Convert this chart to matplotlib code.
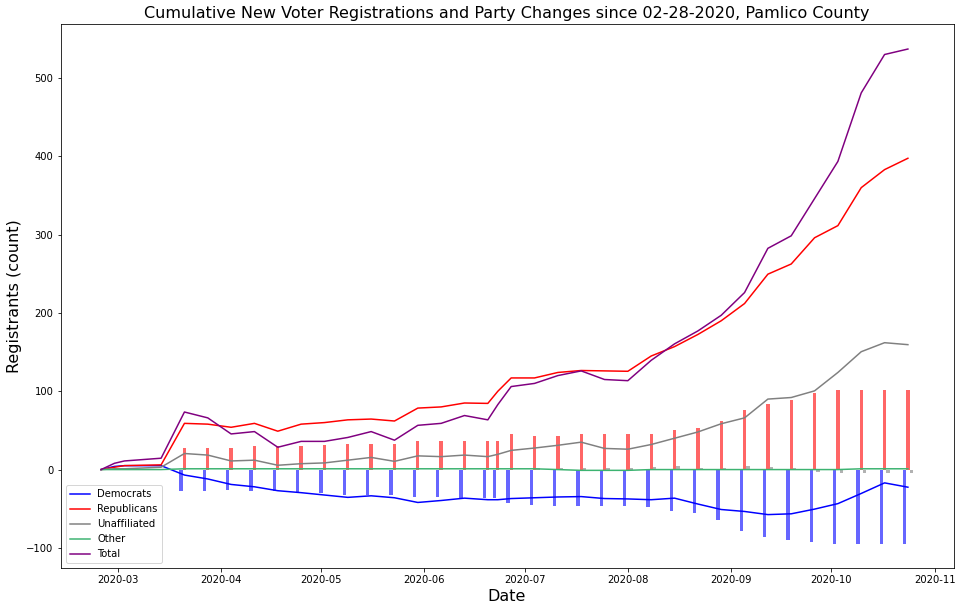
import numpy as np
import matplotlib
matplotlib.use("Agg")
from matplotlib import pyplot as plt

# weekly snapshot dates
dates = ["2020-02-25", "2020-02-29", "2020-03-03", "2020-03-14", "2020-03-21", "2020-03-28",
         "2020-04-04", "2020-04-11", "2020-04-18", "2020-04-25", "2020-05-02", "2020-05-09",
         "2020-05-16", "2020-05-23", "2020-05-30", "2020-06-06", "2020-06-13", "2020-06-20",
         "2020-06-23", "2020-06-27", "2020-07-04", "2020-07-11", "2020-07-18", "2020-07-25",
         "2020-08-01", "2020-08-08", "2020-08-15", "2020-08-22", "2020-08-29", "2020-09-05",
         "2020-09-12", "2020-09-19", "2020-09-26", "2020-10-03", "2020-10-10", "2020-10-17",
         "2020-10-24"]

democrats = [0, 4, 5, 5, -7, -12, -19, -22, -27, -29.5, -32.5, -35.5, -33.5, -36, -42, -39.5,
             -36.5, -38.5, -38.5, -37, -36, -35, -34.5, -37, -37.5, -38.5, -36.5, -44, -51,
             -53.5, -57.5, -56.5, -50.5, -43.5, -30.5, -17, -22.5]
republicans = [0, 3, 5, 6, 59, 58, 54, 59, 49, 58, 60, 63.5, 64.5, 62, 78.5, 80, 85, 84.5,
               100, 117, 117, 124, 126.5, 126, 125.5, 145, 157, 172.5, 190, 212, 249.5, 262.5,
               296, 311.5, 360, 383, 397.5]
unaffiliated = [0, 1, 1, 3, 20.5, 18.5, 11, 12, 5.5, 7.5, 8.5, 12, 15.5, 10.5, 17.5, 16.5,
                18.5, 16.5, 19.5, 24.5, 27.5, 31, 35, 27, 26, 32, 40, 48, 58.5, 66, 90, 92,
                100.5, 124, 150.5, 162, 159.5]
other = [0, 0, 0, 0, 1, 1, 1, 1, 1, 1, 1, 1, 1, 1, 1, 1, 1, 1, 1, 1, 1, 0, -1, -1, -1, 0, 0,
         0, 0, 0, 0, 0, 0, 0, 1, 1, 1]
total = [0, 8, 11, 14.5, 73.5, 66, 45.5, 48.5, 28.5, 36, 36, 41, 48.5, 37.5, 56.5, 59, 69,
         63.5, 83, 106, 110, 120, 126, 115, 113.5, 139.5, 160.5, 177, 197, 226, 282.5, 298.5,
         346, 393.5, 481, 530, 537]

# party changes (cumulative), from 2020-03-21 on
bar_dates = dates[4:]
chg_dem = [-28, -28, -26, -28, -27, -29.5, -30, -32, -32, -32, -34.5, -34.5, -36, -36, -36,
           -43, -45, -46, -47, -47, -47, -48, -53, -55, -65, -79, -86.5, -90.5, -93, -94.5,
           -94.5, -94.5, -94.5]
chg_rep = [28, 28, 28, 30.5, 29.5, 29.5, 32, 33, 33, 33, 36, 36, 37, 37, 37, 45, 42.5, 43.5,
           46, 46, 46, 46, 50, 53.5, 62.5, 76.5, 84, 89, 98, 102, 102, 102, 102]
chg_una = [0, 0, 0, 0, 0, 0, 0, 0, 0, 0, 0, 0, 0, 0, 0, 0, 2, 2, 2, 2, 2, 3.5, 4.5, 2, 2,
           4.5, 3.5, 2, -3.5, -5, -5, -5, -5]

x = np.array(dates, dtype="datetime64[D]")
xb = np.array(bar_dates, dtype="datetime64[D]")
day = np.timedelta64(1, "D")

fig = plt.figure(figsize=(962 / 72, 611 / 72), dpi=72)
ax = fig.add_axes([60.5 / 962, 42.7 / 611, 893 / 962, 544 / 611])

ax.plot(x, democrats, color="blue", label="Democrats")
ax.plot(x, republicans, color="red", label="Republicans")
ax.plot(x, unaffiliated, color="gray", label="Unaffiliated")
ax.plot(x, other, color="mediumseagreen", label="Other")
ax.plot(x, total, color="purple", label="Total")

ax.bar(xb - day, chg_dem, width=1, color="blue", alpha=0.6)
ax.bar(xb, chg_rep, width=1, color="red", alpha=0.6)
ax.bar(xb + day, chg_una, width=1, color="gray", alpha=0.6)

ax.set_xlabel("Date", fontsize=16)
ax.set_ylabel("Registrants (count)", fontsize=16)
ax.set_title("Cumulative New Voter Registrations and Party Changes since 02-28-2020, Pamlico County",
             fontsize=16)
ax.legend(loc="lower left")

fig.savefig("out.png", dpi=72)
